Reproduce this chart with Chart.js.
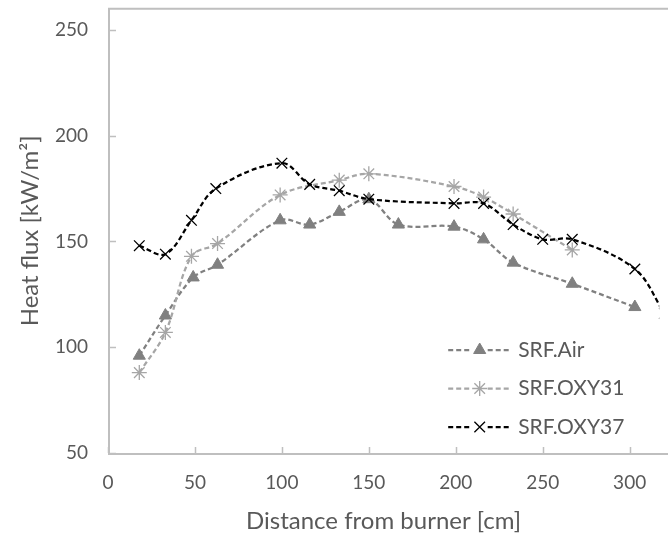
<!DOCTYPE html>
<html><head><meta charset="utf-8">
<script src="https://cdn.jsdelivr.net/npm/chart.js@4/dist/chart.umd.min.js"></script>
<style>html,body{margin:0;padding:0;background:#fff;overflow:hidden}#wrap{width:668px;height:538px;position:relative}</style>
</head><body><div id="wrap"><canvas id="c" width="668" height="538"></canvas></div>
<script>
const seriesNames = ['SRF.Air', 'SRF.OXY31', 'SRF.OXY37'];
const airX = [18, 33, 49, 63, 99, 116, 133, 150, 167, 199, 216, 233, 267, 303];
const airY = [96, 115, 133, 139, 160, 158, 164, 170, 158, 157, 151, 140, 130, 119];
const oxy31X = [18, 33, 48, 63, 99, 133, 150, 199, 216, 233, 267];
const oxy31Y = [88, 107, 143, 149, 172, 179, 182, 176, 171, 163, 146];
const oxy37X = [18, 33, 48, 62, 100, 116, 133, 150, 199, 216, 233, 250, 267, 303, 320];
const oxy37Y = [148, 144, 160, 175, 187, 177, 174, 170, 168, 168, 158, 151, 151, 137, 116];
const xTicks = [0, 50, 100, 150, 200, 250, 300];
const yTicks = [50, 100, 150, 200, 250];
const xTitle = 'Distance from burner [cm]';
const yTitle = 'Heat flux [kW/m²]';

const pts = (xs, ys) => xs.map((x, i) => ({x: x, y: ys[i]}));
const FONT = 'Lato';
const TXT = '#595959';
const AXIS = '#BFBFBF';

const boxPlugin = {
  id: 'box',
  beforeDatasetsDraw(chart) {
    const {ctx, chartArea: a, scales} = chart;
    ctx.save();
    ctx.setLineDash([]);
    ctx.strokeStyle = AXIS;
    ctx.lineWidth = 2;
    ctx.beginPath();
    ctx.moveTo(a.left + 1, a.bottom + 1);
    ctx.lineTo(a.left + 1, a.top);
    ctx.lineTo(chart.width + 5, a.top);
    ctx.moveTo(a.left, a.bottom + 1);
    ctx.lineTo(chart.width + 5, a.bottom + 1);
    ctx.stroke();
    ctx.lineWidth = 1.5;
    ctx.beginPath();
    xTicks.forEach(v => {
      const px = Math.round(scales.x.getPixelForValue(v)) + 0.5;
      ctx.moveTo(px, a.bottom); ctx.lineTo(px, a.bottom - 6);
    });
    yTicks.forEach(v => {
      const py = Math.round(scales.y.getPixelForValue(v)) + 0.5;
      ctx.moveTo(a.left, py); ctx.lineTo(a.left + 8, py);
    });
    ctx.stroke();
    ctx.restore();
  },
  afterDraw(chart) {
    const {ctx, chartArea: a} = chart;
    ctx.save();
    chart.data.datasets.forEach((ds, i) => {
      const y = a.bottom - 103 + i * 38.5;
      const x0 = a.right - 211, x1 = a.right - 148, xm = (x0 + x1) / 2;
      ctx.strokeStyle = ds.borderColor;
      ctx.lineWidth = ds.borderWidth;
      ctx.setLineDash(ds.borderDash);
      ctx.beginPath();
      ctx.moveTo(x0, y); ctx.lineTo(xm - 8, y);
      ctx.moveTo(xm + 8, y); ctx.lineTo(x1, y);
      ctx.stroke();
      ctx.setLineDash([]);
      ctx.fillStyle = ds.pointBackgroundColor;
      ctx.strokeStyle = ds.pointBorderColor;
      ctx.lineWidth = ds.pointBorderWidth;
      Chart.helpers.drawPoint(ctx, {
        pointStyle: ds.pointStyle, radius: ds.pointRadius, rotation: 0,
        borderWidth: ds.pointBorderWidth
      }, xm, y);
      ctx.fillStyle = TXT;
      ctx.font = '21px ' + FONT;
      ctx.textBaseline = 'middle';
      ctx.textAlign = 'left';
      ctx.fillText(ds.label, a.right - 141, y);
    });
    ctx.restore();
  }
};

const noPad = s => { s.paddingTop = 0; s.paddingBottom = 0; s.paddingLeft = 0; s.paddingRight = 0; };

new Chart(document.getElementById('c'), {
  type: 'line',
  data: {
    datasets: [
      {
        label: seriesNames[0], data: pts(airX, airY), order: 3,
        borderColor: '#808080', borderWidth: 2.25, borderDash: [5, 3], tension: 0.35,
        pointStyle: 'triangle', pointRadius: 7, pointBorderWidth: 1,
        pointBackgroundColor: '#808080', pointBorderColor: '#808080'
      },
      {
        label: seriesNames[1], data: pts(oxy31X, oxy31Y), order: 2,
        borderColor: '#A6A6A6', borderWidth: 2.25, borderDash: [5, 3], tension: 0.35,
        pointStyle: 'star', pointRadius: 7.5, pointBorderWidth: 1.3,
        pointBackgroundColor: '#A6A6A6', pointBorderColor: '#A6A6A6'
      },
      {
        label: seriesNames[2], data: pts(oxy37X, oxy37Y), order: 1,
        borderColor: '#000000', borderWidth: 2.25, borderDash: [5, 3], tension: 0.35,
        pointStyle: 'crossRot', pointRadius: 7.5, pointBorderWidth: 1.3,
        pointBackgroundColor: '#000000', pointBorderColor: '#000000'
      }
    ]
  },
  options: {
    responsive: false,
    animation: false,
    layout: {padding: {top: 5, right: 0, left: 0, bottom: 0}},
    plugins: {legend: {display: false}, tooltip: {enabled: false}},
    scales: {
      x: {
        type: 'linear', min: 0, max: 317,
        afterBuildTicks: s => { s.ticks = xTicks.map(v => ({value: v})); },
        afterFit: s => { s.height = 85; noPad(s); },
        grid: {display: false, drawTicks: false},
        border: {display: false},
        ticks: {color: TXT, font: {family: FONT, size: 19}, padding: 18, maxRotation: 0},
        title: {display: true, text: xTitle, color: TXT, font: {family: FONT, size: 24}, padding: {top: 0, bottom: 2}}
      },
      y: {
        type: 'linear', min: 50, max: 260,
        afterBuildTicks: s => { s.ticks = yTicks.map(v => ({value: v})); },
        afterFit: s => { s.width = 108; noPad(s); },
        grid: {display: false, drawTicks: false},
        border: {display: false},
        ticks: {color: TXT, font: {family: FONT, size: 19}, padding: 20},
        title: {display: true, text: yTitle, color: TXT, font: {family: FONT, size: 24}, padding: {top: 16, bottom: 0}}
      }
    }
  },
  plugins: [boxPlugin]
});
</script></body></html>
